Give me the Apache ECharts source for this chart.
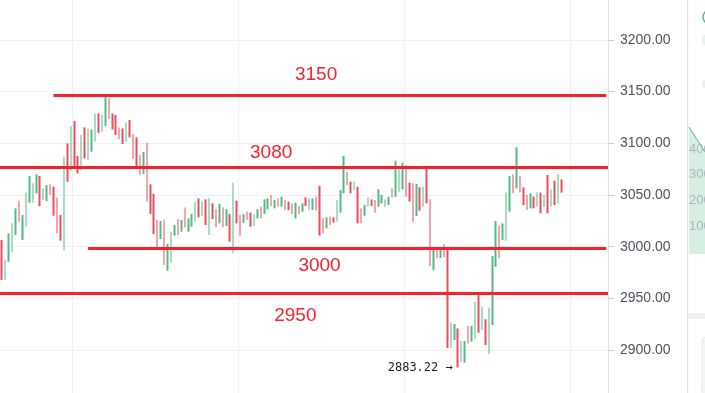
<!DOCTYPE html>
<html><head><meta charset="utf-8">
<script src="https://cdn.jsdelivr.net/npm/echarts@6/dist/echarts.min.js"></script>
<style>html,body{margin:0;padding:0;background:#fff;overflow:hidden}#c{width:705px;height:393px}</style>
</head><body><div id="c"></div>
<script>
// candle highs / lows, direction 1 = up (green), 0 = down (red)
const highs = [3006.5,2987.1,3012.9,3022.6,3037.1,3044.5,3030.6,3052.3,3068.4,3061.3,
3070.0,3068.4,3056.4,3059.6,3060.3,3058.0,3047.7,3030.6,3087.0,3099.9,
3116.7,3121.5,3087.7,3108.0,3115.4,3114.4,3113.4,3128.9,3128.9,3127.3,
3146.7,3143.4,3128.9,3127.3,3115.4,3114.4,3120.2,3122.5,3109.0,3105.8,
3088.7,3091.6,3100.6,3060.3,3051.0,3025.8,3024.8,3026.4,3002.6,3014.5,
3021.0,3026.8,3025.8,3038.0,3027.4,3031.6,3043.6,3046.8,3043.6,3045.8,
3046.8,3041.9,3036.2,3041.3,3037.8,3036.2,3031.6,3061.9,3044.5,3030.7,
3031.6,3033.9,3032.9,3031.6,3036.2,3038.7,3045.8,3046.8,3050.0,3045.1,
3046.8,3048.4,3045.1,3043.6,3041.9,3042.6,3039.4,3041.9,3047.7,3046.8,
3046.8,3048.4,3059.0,3027.4,3028.4,3029.0,3028.4,3045.1,3054.8,3087.7,
3072.6,3062.9,3062.9,3058.0,3037.1,3040.3,3047.7,3045.8,3045.1,3055.5,
3050.0,3045.8,3048.4,3056.5,3083.2,3075.8,3081.3,3079.0,3061.9,3061.3,
3060.6,3057.4,3058.0,3078.1,3045.8,2998.7,2998.7,2998.7,3002.6,2996.8,
2926.5,2925.2,2921.0,2908.8,2908.8,2923.3,2923.3,2946.8,2954.3,2942.0,
2929.8,2941.0,2991.0,3024.9,3020.0,3022.6,3052.3,3068.4,3070.3,3096.1,
3068.4,3057.4,3050.0,3051.6,3048.4,3052.3,3052.3,3050.0,3069.3,3055.5,
3063.9,3070.3,3065.1];
const lows = [2967.8,2967.8,2985.5,2995.2,3011.3,3024.2,3006.5,3019.4,3042.6,3042.6,
3051.6,3039.4,3045.1,3044.1,3050.0,3030.0,3012.9,3005.8,2996.8,3062.9,
3073.5,3076.7,3070.9,3074.1,3085.4,3083.8,3091.9,3101.5,3110.2,3111.2,
3116.7,3123.5,3113.4,3108.0,3103.8,3099.3,3101.5,3105.8,3084.8,3076.7,
3069.3,3070.3,3043.6,3031.6,3012.3,3000.0,3007.4,2982.3,2976.8,2984.5,
3010.6,3011.3,3014.5,3018.7,3014.5,3019.4,3024.2,3028.4,3029.7,3021.0,
3011.3,3026.8,3018.7,3022.6,3018.7,3020.0,3004.9,2993.6,3022.6,3010.7,
3023.2,3025.8,3019.4,3020.0,3027.4,3027.4,3031.6,3036.2,3039.4,3037.1,
3038.7,3038.7,3035.5,3035.5,3031.6,3027.4,3031.6,3033.9,3039.4,3035.5,
3035.5,3034.9,3010.7,3012.9,3017.8,3021.0,3023.2,3024.2,3032.9,3051.6,
3059.7,3051.6,3054.8,3022.6,3022.6,3030.0,3038.7,3039.4,3032.9,3038.7,
3041.9,3038.7,3040.3,3047.7,3048.4,3053.2,3055.5,3048.4,3043.6,3024.2,
3029.7,3034.9,3038.7,3041.9,2981.3,2977.4,2989.0,2989.0,2990.0,2902.0,
2901.7,2909.8,2883.22,2888.8,2887.8,2906.5,2908.1,2910.7,2916.8,2919.4,
2904.9,2896.2,2924.3,2980.7,2988.8,3006.5,3005.8,3033.9,3051.6,3056.5,
3052.3,3040.3,3035.5,3037.1,3037.1,3038.7,3032.3,3038.7,3032.3,3038.7,
3040.3,3041.9,3052.3];
const ups = [0,1,1,1,1,0,1,1,1,1, 1,0,1,1,0,0,0,0,1,0, 1,0,0,1,0,1,1,1,0,1,
1,0,0,0,0,0,1,0,0,0, 0,1,0,0,0,0,1,0,1,1, 1,0,1,0,1,1,1,0,1,0,
1,0,0,1,0,1,0,1,0,0, 1,0,0,1,1,0,1,1,0,1, 0,1,0,0,0,1,0,1,0,1,
1,0,0,0,1,0,0,1,1,1, 0,0,1,0,0,1,1,0,0,1, 1,1,1,0,1,1,1,0,0,0,
1,0,1,0,0,1,0,1,0,0, 1,1,0,1,1,0,1,1,0,1, 0,1,1,1,0,1,1,1,0,1,
0,0,0,1,0,1,0,1,0,1, 0,1,0];
const emptySlots = 13;
// support / resistance levels
const levelValues = [3146, 3076.5, 2998.5, 2955];
const levelLabels = ['3150', '3080', '3000', '2950'];
const levelStartIdx = [15, null, 25, null];
const yTicks = [2900, 2950, 3000, 3050, 3100, 3150, 3200];

const N = highs.length + emptySlots;
const cats = Array.from({length: N}, (_, i) => 'c' + i);
const kdata = highs.map((h, i) => ups[i] ? [lows[i], h, lows[i], h] : [h, lows[i], lows[i], h]);
const lowIdx = lows.indexOf(Math.min(...lows));

const RED = '#f5222d';
const labelAnchors = [[91, 3166], [78, 3090.6], [92, 2981.8], [85, 2933.5]];

const markLineData = levelValues.map((v, i) => levelStartIdx[i] === null
  ? {yAxis: v}
  : [{coord: [levelStartIdx[i], v]}, {coord: [N - 1, v]}]);

const chart = echarts.init(document.getElementById('c'), null, {renderer: 'canvas'});
chart.setOption({
  animation: false,
  backgroundColor: '#fff',
  grid: {left: 0, right: 97, top: -11.8, bottom: -8.8, containLabel: false, outerBoundsMode: 'none'},
  xAxis: {
    type: 'category', data: cats, boundaryGap: true,
    axisLine: {show: false}, axisTick: {show: false}, axisLabel: {show: false},
    splitLine: {show: true, interval: (i) => [21, 69, 117, 165].includes(i), lineStyle: {color: '#eef1f5', width: 1}}
  },
  yAxis: {
    type: 'value', position: 'right', min: 2850, max: 3250, interval: 50,
    axisLine: {show: true, lineStyle: {color: '#e0e3eb'}},
    axisTick: {show: true, length: 6, lineStyle: {color: '#c9ccd3'}},
    axisLabel: {show: true, margin: 12, color: '#50535e', fontSize: 14, fontFamily: 'Liberation Sans',
      formatter: v => yTicks.includes(v) ? v.toFixed(2) : ''},
    splitLine: {show: true, lineStyle: {color: '#eef1f5'}}
  },
  series: [{
    type: 'candlestick', data: kdata, barWidth: 2, silent: true,
    itemStyle: {color: '#53b987', color0: '#eb4d5c', borderColor: '#53b987', borderColor0: '#eb4d5c', borderWidth: 0},
    markLine: {
      silent: true, symbol: ['none', 'none'], label: {show: false},
      lineStyle: {color: RED, width: 3, type: 'solid'},
      emphasis: {disabled: true},
      data: markLineData
    },
    markPoint: {
      silent: true,
      data: levelLabels.map((t, i) => ({
        name: t, coord: labelAnchors[i], symbol: 'circle', symbolSize: 0,
        label: {show: true, position: 'inside', formatter: '{b}', color: RED, fontSize: 19, fontFamily: 'Liberation Sans'}
      })).concat([{
        name: 'low', coord: [lowIdx, lows[lowIdx]], symbol: 'circle', symbolSize: 0,
        label: {show: true, position: 'left', distance: 5, formatter: lows[lowIdx].toFixed(2) + ' \u2192',
          color: '#1e1e1e', fontSize: 12, fontFamily: 'DejaVu Sans Mono'}
      }])
    }
  }],
  graphic: [
    {type: 'rect', shape: {x: 687, y: 0, width: 1.2, height: 393}, style: {fill: '#e0e3eb'}, silent: true},
    {type: 'polygon', shape: {points: [[689, 127], [705, 152], [705, 254], [689, 254]]}, style: {fill: '#d6efe2'}, silent: true},
    {type: 'polyline', shape: {points: [[689, 127], [705, 152]]}, style: {stroke: '#53b987', lineWidth: 1}, silent: true},
    {type: 'text', x: 689, y: 143, style: {text: '400', fill: '#b2b5be', font: '13px Liberation Sans'}, silent: true},
    {type: 'text', x: 689, y: 168, style: {text: '300', fill: '#b2b5be', font: '13px Liberation Sans'}, silent: true},
    {type: 'text', x: 689, y: 194, style: {text: '200', fill: '#b2b5be', font: '13px Liberation Sans'}, silent: true},
    {type: 'text', x: 689, y: 220, style: {text: '100', fill: '#b2b5be', font: '13px Liberation Sans'}, silent: true},
    {type: 'rect', shape: {x: 688, y: 313, width: 17, height: 6}, style: {fill: '#eef0f4'}, silent: true},
    {type: 'rect', shape: {x: 702, y: 336, width: 20, height: 60, r: 6}, style: {fill: '#eef8f2', stroke: '#d7efe2'}, silent: true},
    {type: 'circle', shape: {cx: 710, cy: 17, r: 7}, style: {fill: 'none', stroke: '#53b987', lineWidth: 1.5}, silent: true},
    {type: 'rect', shape: {x: 702, y: 33, width: 20, height: 14, r: 7}, style: {fill: '#e3f4ea'}, silent: true},
    {type: 'rect', shape: {x: 702, y: 80, width: 10, height: 8, r: 3}, style: {fill: '#eceef2'}, silent: true}
  ]
});
</script></body></html>
